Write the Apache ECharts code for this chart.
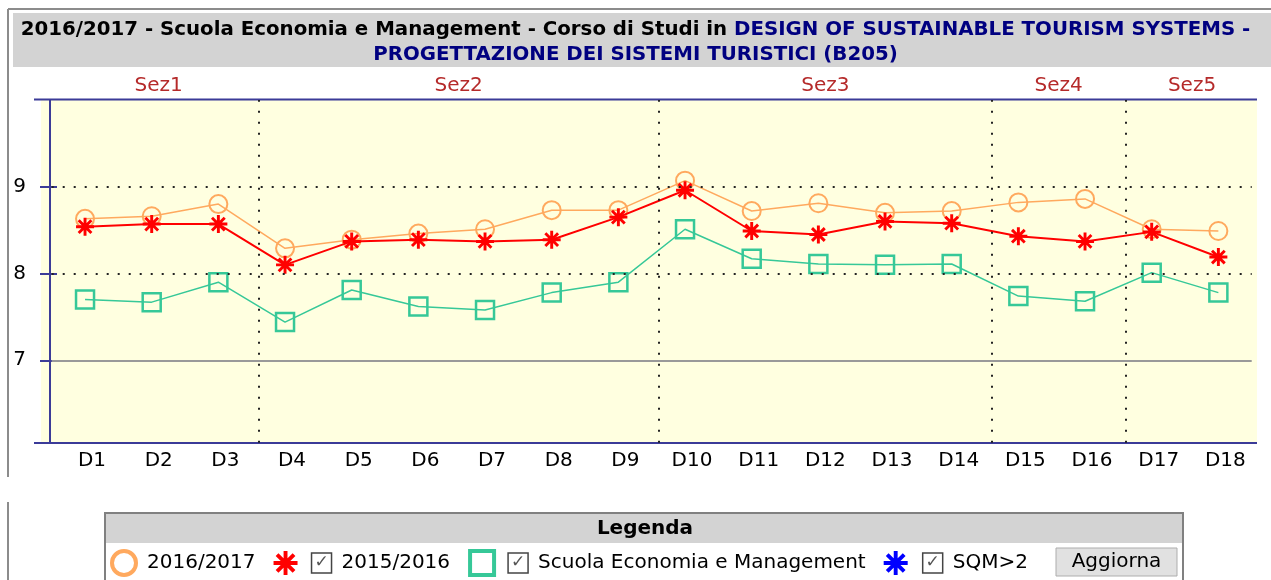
<!DOCTYPE html>
<html style="height: 100%">
<head>
    <meta charset="utf-8">
</head>
<body style="height: 100%; margin: 0; background: #fff">
<div id="container" style="width: 1271px; height: 580px"></div>
<script type="text/javascript" src="https://cdn.jsdelivr.net/npm/echarts@6/dist/echarts.min.js"></script>
<script type="text/javascript">
    var dom = document.getElementById("container");
    var myChart = echarts.init(dom);
    var option;

    // domande D1..D18
    var categories = ['D1', 'D2', 'D3', 'D4', 'D5', 'D6', 'D7', 'D8', 'D9',
        'D10', 'D11', 'D12', 'D13', 'D14', 'D15', 'D16', 'D17', 'D18'];
    var anno2016 = [8.63, 8.66, 8.80, 8.29, 8.39, 8.46, 8.51, 8.73, 8.73,
        9.07, 8.72, 8.81, 8.70, 8.72, 8.82, 8.86, 8.51, 8.49];
    var anno2015 = [8.54, 8.57, 8.57, 8.10, 8.37, 8.39, 8.37, 8.39, 8.65,
        8.96, 8.49, 8.45, 8.60, 8.58, 8.43, 8.37, 8.48, 8.19];
    var scuola = [7.70, 7.67, 7.90, 7.44, 7.81, 7.62, 7.58, 7.78, 7.90,
        8.51, 8.17, 8.11, 8.10, 8.11, 7.74, 7.68, 8.01, 7.78];
    var sqm = [];
    var sezNames = ['Sez1', 'Sez2', 'Sez3', 'Sez4', 'Sez5'];
    var sezCounts = [3, 6, 5, 2, 2];
    var yTicks = [7, 8, 9];
    var yMin = 6.05, yMax = 10;

    // confini e centri delle sezioni (in unita' di categoria)
    var sezBounds = [], sezCenters = [], acc = 0;
    sezCounts.forEach(function (n, i) {
        sezCenters.push(acc + n / 2);
        acc += n;
        if (i < sezCounts.length - 1) sezBounds.push(acc);
    });
    var catCenters = categories.map(function (c, i) { return i + 0.5; });

    var blu = '#3b3b98';
    var font = 'DejaVu Sans';
    var asterisco = 'path://M-1.3 -8L1.3 -8L1.3 8L-1.3 8Z M-8 -1.3L8 -1.3L8 1.3L-8 1.3Z M-4.74 -6.58L6.58 4.74L4.74 6.58L-6.58 -4.74Z M6.58 -4.74L-4.74 6.58L-6.58 4.74L4.74 -6.58Z';
    var dotted = {color: '#222', width: 2, type: [2, 9]};

    var cb = {
        width: 20, height: 20, lineHeight: 20, borderColor: '#444', borderWidth: 1.5,
        align: 'center', verticalAlign: 'middle', fontSize: 17, color: '#555', fontFamily: font
    };

    option = {
        animation: false,
        title: {
            left: 'center', top: 17, padding: 0,
            text: '{k|2016/2017 - Scuola Economia e Management - Corso di Studi in }{n|DESIGN OF SUSTAINABLE TOURISM SYSTEMS -}\n{n|PROGETTAZIONE DEI SISTEMI TURISTICI (B205)}',
            textStyle: {
                rich: {
                    k: {fontFamily: font, fontWeight: 'bold', fontSize: 19.8, color: '#000', lineHeight: 25},
                    n: {fontFamily: font, fontWeight: 'bold', fontSize: 19.8, color: '#000080', lineHeight: 25}
                }
            }
        },
        legend: {
            left: 110, top: 549, padding: 0, itemGap: 18,
            itemWidth: 24, itemHeight: 24,
            selectedMode: false,
            textStyle: {fontFamily: font, fontSize: 20, color: '#000',
                rich: {cb: cb, sp: {width: 10, fontSize: 20}}},
            data: [
                {name: '2016/2017', icon: 'circle', textStyle: {padding: [0, 0, 0, 6]},
                    itemStyle: {color: 'rgba(0,0,0,0)', borderColor: '#ffa95e', borderWidth: 4}},
                {name: '2015/2016', icon: asterisco, textStyle: {padding: [0, 0, 0, 9]},
                    itemStyle: {color: '#ff0000', borderWidth: 0}},
                {name: 'Scuola Economia e Management', icon: 'rect', textStyle: {padding: [0, 0, 0, 9]},
                    itemStyle: {color: 'rgba(0,0,0,0)', borderColor: '#36c898', borderWidth: 4}},
                {name: 'SQM>2', icon: asterisco, textStyle: {padding: [0, 0, 0, 10]},
                    itemStyle: {color: '#0000ff', borderWidth: 0}}
            ],
            formatter: function (name) {
                if (name === '2016/2017') return name;
                return '{cb|✓}{sp| }' + name;
            }
        },
        graphic: [
            // cornice esterna
            {type: 'line', z: -5, shape: {x1: 8, y1: 9, x2: 1271, y2: 9}, style: {stroke: '#8c8c8c', lineWidth: 2}},
            {type: 'line', z: -5, shape: {x1: 8, y1: 9, x2: 8, y2: 477}, style: {stroke: '#8c8c8c', lineWidth: 2}},
            {type: 'line', z: -5, shape: {x1: 8, y1: 502, x2: 8, y2: 580}, style: {stroke: '#8c8c8c', lineWidth: 2}},
            {type: 'rect', z: -5, shape: {x: 13, y: 13, width: 1258, height: 54}, style: {fill: '#d3d3d3'}},
            // area del grafico
            {type: 'rect', z: -5, shape: {x: 41, y: 100, width: 1216, height: 343}, style: {fill: '#ffffe0'}},
            {type: 'line', z: 1, shape: {x1: 34, y1: 99.5, x2: 1257, y2: 99.5}, style: {stroke: blu, lineWidth: 2}},
            {type: 'line', z: 1, shape: {x1: 34, y1: 443, x2: 1257, y2: 443}, style: {stroke: blu, lineWidth: 2}},
            // riquadro legenda
            {type: 'rect', z: -5, shape: {x: 105, y: 513, width: 1078, height: 80}, style: {fill: '#fff', stroke: '#808080', lineWidth: 2}},
            {type: 'rect', z: -4, shape: {x: 106, y: 514, width: 1076, height: 29}, style: {fill: '#d3d3d3'}},
            {type: 'text', z: 5, x: 645, y: 529, style: {text: 'Legenda', fontFamily: font, fontWeight: 'bold', fontSize: 20, fill: '#000', align: 'center', verticalAlign: 'middle'}},
            {type: 'rect', z: 5, shape: {x: 1056, y: 548, width: 121, height: 28}, style: {fill: '#e1e1e1', stroke: '#adadad', lineWidth: 1}},
            {type: 'text', z: 6, x: 1116.5, y: 562, style: {text: 'Aggiorna', fontFamily: font, fontSize: 20, fill: '#000', align: 'center', verticalAlign: 'middle'}}
        ],
        grid: [
            {left: 51.7, width: 1200, top: 100, height: 342.7},
            {left: 58.7, width: 1200, top: 100, height: 342.7}
        ],
        xAxis: [
            {type: 'category', gridIndex: 0, data: categories, boundaryGap: true,
                axisLine: {show: false}, axisTick: {show: false}, axisLabel: {show: false}, splitLine: {show: false}},
            {type: 'value', gridIndex: 1, position: 'bottom', min: 0, max: categories.length,
                axisLine: {show: false}, axisTick: {show: false}, splitLine: {show: false},
                axisLabel: {customValues: catCenters, margin: 8, fontFamily: font, fontSize: 20, color: '#000',
                    formatter: function (v) { return categories[Math.floor(v)]; }}},
            {type: 'value', gridIndex: 1, position: 'top', min: 0, max: categories.length,
                axisLine: {show: false}, axisTick: {show: false}, splitLine: {show: false},
                axisLabel: {customValues: sezCenters, margin: 4, fontFamily: font, fontSize: 20, color: '#b52a2a',
                    formatter: function (v) { return sezNames[sezCenters.indexOf(v)]; }}}
        ],
        yAxis: [
            {type: 'value', gridIndex: 0, position: 'left', offset: 1.7, min: yMin, max: yMax,
                axisLine: {show: true, lineStyle: {color: blu, width: 2}},
                axisTick: {show: true, customValues: yTicks, length: 10, lineStyle: {color: blu, width: 2}},
                axisLabel: {customValues: yTicks, margin: 24, fontFamily: font, fontSize: 20, color: '#000'},
                splitLine: {show: false}},
            {type: 'value', gridIndex: 0, position: 'left', offset: 1.7, min: yMin, max: yMax,
                axisLine: {show: false},
                axisTick: {show: true, inside: true, customValues: yTicks, length: 7, lineStyle: {color: blu, width: 2}},
                axisLabel: {show: false}, splitLine: {show: false}},
            {type: 'value', gridIndex: 1, min: yMin, max: yMax, show: false}
        ],
        series: [
            {
                name: 'griglia', type: 'line', xAxisIndex: 0, yAxisIndex: 0, data: [], silent: true,
                markLine: {
                    silent: true, symbol: ['none', 'none'], label: {show: false},
                    data: yTicks.map(function (v) {
                        return {yAxis: v, lineStyle: v === 7 ? {color: '#999', width: 2, type: 'solid'} : dotted};
                    })
                }
            },
            {
                name: 'sezioni', type: 'line', xAxisIndex: 1, yAxisIndex: 2, data: [], silent: true,
                markLine: {
                    silent: true, symbol: ['none', 'none'], label: {show: false}, lineStyle: dotted,
                    data: sezBounds.map(function (b) { return {xAxis: b}; })
                }
            },
            {
                name: '2016/2017', type: 'line', data: anno2016, z: 3,
                symbol: 'circle', symbolSize: 18,
                lineStyle: {color: '#ffa95e', width: 1.5},
                itemStyle: {color: 'rgba(0,0,0,0)', borderColor: '#ffa95e', borderWidth: 2},
                emphasis: {disabled: true}
            },
            {
                name: '2015/2016', type: 'line', data: anno2015, z: 4,
                symbol: asterisco, symbolSize: 18,
                lineStyle: {color: '#ff0000', width: 2},
                itemStyle: {color: '#ff0000'},
                emphasis: {disabled: true}
            },
            {
                name: 'Scuola Economia e Management', type: 'line', data: scuola, z: 3,
                symbol: 'rect', symbolSize: 18,
                lineStyle: {color: '#36c898', width: 1.5},
                itemStyle: {color: 'rgba(0,0,0,0)', borderColor: '#36c898', borderWidth: 2.5},
                emphasis: {disabled: true}
            },
            {
                name: 'SQM>2', type: 'line', data: sqm,
                symbol: asterisco, symbolSize: 16,
                lineStyle: {color: '#0000ff'}, itemStyle: {color: '#0000ff'}
            }
        ]
    };

    if (option && typeof option === "object") {
        myChart.setOption(option, true);
    }
</script>
</body>
</html>
